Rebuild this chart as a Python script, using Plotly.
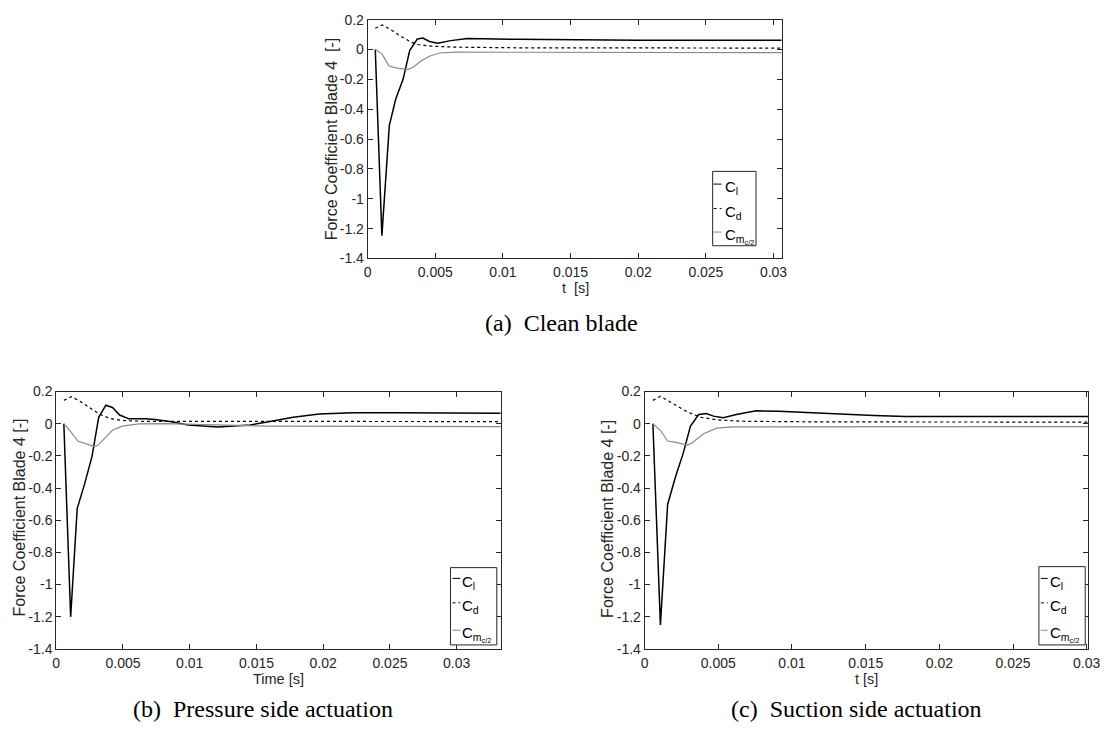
import plotly.graph_objects as go

W, H = 1112, 740

# ---------------- data ----------------
# (a) clean blade
t_a_cl = [0.00056, 0.00105, 0.0016, 0.00207, 0.00262, 0.00311, 0.00367, 0.00408,
          0.00457, 0.00517, 0.00615, 0.00736, 0.011, 0.015, 0.02, 0.025, 0.0306]
cl_a = [0.0, -1.247, -0.508, -0.333, -0.198, -0.005, 0.071, 0.077,
        0.054, 0.043, 0.060, 0.075, 0.069, 0.065, 0.063, 0.062, 0.062]
t_a_cd = [0.00056, 0.00109, 0.00177, 0.0025, 0.00323, 0.00372, 0.00469, 0.00663, 0.011, 0.02, 0.0306]
cd_a = [0.143, 0.165, 0.130, 0.086, 0.049, 0.034, 0.023, 0.016, 0.012, 0.011, 0.010]
t_a_cm = [0.00056, 0.00104, 0.00158, 0.00226, 0.00299, 0.00335, 0.00396, 0.00457,
          0.0053, 0.0066, 0.011, 0.02, 0.0306]
cm_a = [0.0, -0.027, -0.110, -0.126, -0.132, -0.119, -0.075, -0.045,
        -0.023, -0.017, -0.018, -0.020, -0.020]

# (b) pressure side actuation
t_b_cl = [0.00057, 0.00108, 0.00157, 0.00212, 0.00268, 0.00318, 0.00372, 0.00421,
          0.00475, 0.00544, 0.00667, 0.0074, 0.00864, 0.00987, 0.0121, 0.01455,
          0.0158, 0.01775, 0.0197, 0.0222, 0.0254, 0.0333]
cl_b = [0.0, -1.201, -0.528, -0.376, -0.203, 0.040, 0.115, 0.101,
        0.054, 0.030, 0.030, 0.026, 0.012, -0.008, -0.021, -0.008,
        0.010, 0.040, 0.060, 0.068, 0.068, 0.065]
t_b_cd = [0.00057, 0.00113, 0.00175, 0.00249, 0.00323, 0.00397, 0.00495, 0.0064, 0.0072, 0.015, 0.0333]
cd_b = [0.145, 0.168, 0.141, 0.101, 0.060, 0.034, 0.020, 0.015, 0.015, 0.014, 0.013]
t_b_cm = [0.00057, 0.00101, 0.00162, 0.00224, 0.00286, 0.0031, 0.0036, 0.00421,
          0.00495, 0.00618, 0.0081, 0.0107, 0.0158, 0.0333]
cm_b = [0.0, -0.041, -0.108, -0.126, -0.143, -0.136, -0.092, -0.041,
        -0.015, -0.001, 0.0, -0.005, -0.015, -0.018]

# (c) suction side actuation
t_c_cl = [0.00056, 0.00107, 0.00156, 0.00211, 0.00262, 0.00311, 0.00367, 0.00418,
          0.00467, 0.00533, 0.00622, 0.00756, 0.0091, 0.0122, 0.01556, 0.0177, 0.0301]
cl_c = [0.0, -1.251, -0.502, -0.325, -0.183, -0.015, 0.057, 0.063,
        0.047, 0.037, 0.057, 0.080, 0.078, 0.063, 0.051, 0.044, 0.044]
t_c_cd = [0.00056, 0.00107, 0.002, 0.00289, 0.00378, 0.00489, 0.0067, 0.012, 0.0301]
cd_c = [0.145, 0.171, 0.121, 0.074, 0.040, 0.024, 0.015, 0.011, 0.010]
t_c_cm = [0.00056, 0.00107, 0.00156, 0.00222, 0.00289, 0.00322, 0.004, 0.00489, 0.006, 0.0301]
cm_c = [0.0, -0.041, -0.108, -0.118, -0.133, -0.120, -0.062, -0.028, -0.020, -0.018]

x_tickvals = [0, 0.005, 0.01, 0.015, 0.02, 0.025, 0.03]
x_ticktext = ["0", "0.005", "0.01", "0.015", "0.02", "0.025", "0.03"]
y_tickvals = [0.2, 0, -0.2, -0.4, -0.6, -0.8, -1, -1.2, -1.4]
y_ticktext = ["0.2", "0", "-0.2", "-0.4", "-0.6", "-0.8", "-1", "-1.2", "-1.4"]

x_titles = ["t  [s]", "Time [s]", "t [s]"]
y_title_top = "Force Coefficient Blade 4  [-]"
y_title_bottom = "Force Coefficient Blade 4 [-]"
captions = ["(a)  Clean blade", "(b)  Pressure side actuation", "(c)  Suction side actuation"]
legend_labels = ["C<sub>l</sub>", "C<sub>d</sub>", "C<sub>m<sub>c/2</sub></sub>"]

# ---------------- layout helpers ----------------
def px(x):
    return x / W


def py(y):
    return 1 - y / H


AX = "#262626"
GRAY = "#8a8a8a"
SANS = "Liberation Sans, Arial, sans-serif"
TICK_FONT = dict(family=SANS, size=14, color=AX)
XTITLE_FONT = dict(family=SANS, size=14.5, color=AX)
YTITLE_FONT = dict(family=SANS, size=16, color=AX)

panels = [
    # plot box in pixels (left, right, top, bottom) and x range end
    dict(box=(369, 789, 12, 256), xmax=0.0306,
         series=[(t_a_cl, cl_a), (t_a_cd, cd_a), (t_a_cm, cm_a)]),
    dict(box=(53, 504, 392, 655), xmax=0.0333,
         series=[(t_b_cl, cl_b), (t_b_cd, cd_b), (t_b_cm, cm_b)]),
    dict(box=(650, 1100, 392, 655), xmax=0.0301,
         series=[(t_c_cl, cl_c), (t_c_cd, cd_c), (t_c_cm, cm_c)]),
]

styles = [
    dict(color="black", width=1.5, dash="solid"),
    dict(color="black", width=1.2, dash="dot"),
    dict(color=GRAY, width=1.2, dash="solid"),
]

fig = go.Figure()
layout = dict(
    width=W, height=H,
    margin=dict(l=0, r=0, t=0, b=0),
    paper_bgcolor="white", plot_bgcolor="white",
    showlegend=False,
)

for i, p in enumerate(panels):
    xl, xr, yt, yb = p["box"]
    sfx = "" if i == 0 else str(i + 1)
    for (t, v), st in zip(p["series"], styles):
        fig.add_trace(go.Scatter(x=t, y=v, mode="lines", line=st,
                                 xaxis="x" + sfx, yaxis="y" + sfx,
                                 hoverinfo="skip"))
    common = dict(showline=True, linecolor=AX, linewidth=1, mirror="ticks",
                  ticks="inside", ticklen=5, tickcolor=AX, tickwidth=1,
                  showgrid=False, zeroline=False, tickfont=TICK_FONT)
    layout["xaxis" + sfx] = dict(domain=[px(xl), px(xr)], range=[0, p["xmax"]],
                                 anchor="y" + sfx, tickvals=x_tickvals,
                                 ticktext=x_ticktext, ticklabelstandoff=1, **common)
    layout["yaxis" + sfx] = dict(domain=[py(yb), py(yt)], range=[-1.4, 0.2],
                                 anchor="x" + sfx, tickvals=y_tickvals,
                                 ticktext=y_ticktext, ticklabelstandoff=0, **common)

fig.update_layout(**layout)

annotations = []
shapes = []

# axis titles
x_title_pos = [(580, 286), (279, 686), (875, 686)]
y_title_pos = [(332, 134, y_title_top), (16, 521, y_title_bottom), (613, 522, y_title_bottom)]
for (x, y), txt in zip(x_title_pos, x_titles):
    annotations.append(dict(x=px(x), y=py(y), xref="paper", yref="paper", text=txt,
                            showarrow=False, font=XTITLE_FONT, xanchor="center", yanchor="middle"))
for x, y, txt in y_title_pos:
    annotations.append(dict(x=px(x), y=py(y), xref="paper", yref="paper", text=txt,
                            textangle=-90, showarrow=False, font=YTITLE_FONT,
                            xanchor="center", yanchor="middle"))

# sub-figure captions
cap_pos = [(566, 322), (263, 716), (865, 716)]
for (x, y), txt in zip(cap_pos, captions):
    annotations.append(dict(x=px(x), y=py(y), xref="paper", yref="paper", text=txt,
                            showarrow=False,
                            font=dict(family="Liberation Serif, Times New Roman, serif", size=24, color="black"),
                            xanchor="center", yanchor="middle"))

# legend boxes: box x0, x1, y0, y1, sample x0, x1, text x, item rows
legends = [
    (719, 763, 167, 243, 720, 728, 729, [180, 205, 229]),
    (453, 500, 572, 651, 455, 463, 463, [583, 608, 636]),
    (1050, 1097, 571, 651, 1052, 1059, 1059, [583, 608, 636]),
]
LEG_FONT = dict(family=SANS, size=15, color="black")
for bx0, bx1, by0, by1, sx0, sx1, tx, rows in legends:
    shapes.append(dict(type="rect", xref="paper", yref="paper",
                       x0=px(bx0), x1=px(bx1), y0=py(by1), y1=py(by0),
                       line=dict(color=AX, width=1), fillcolor="white", layer="above"))
    for ry, st, lab in zip(rows, styles, legend_labels):
        shapes.append(dict(type="line", xref="paper", yref="paper",
                           x0=px(sx0), x1=px(sx1), y0=py(ry), y1=py(ry),
                           line=dict(color=st["color"], width=1, dash=st["dash"]),
                           layer="above"))
        annotations.append(dict(x=px(tx), y=py(ry - 8), xref="paper", yref="paper",
                                text=lab, showarrow=False, font=LEG_FONT,
                                xanchor="left", yanchor="top"))

fig.update_layout(annotations=annotations, shapes=shapes)
fig.write_html("out.html")
